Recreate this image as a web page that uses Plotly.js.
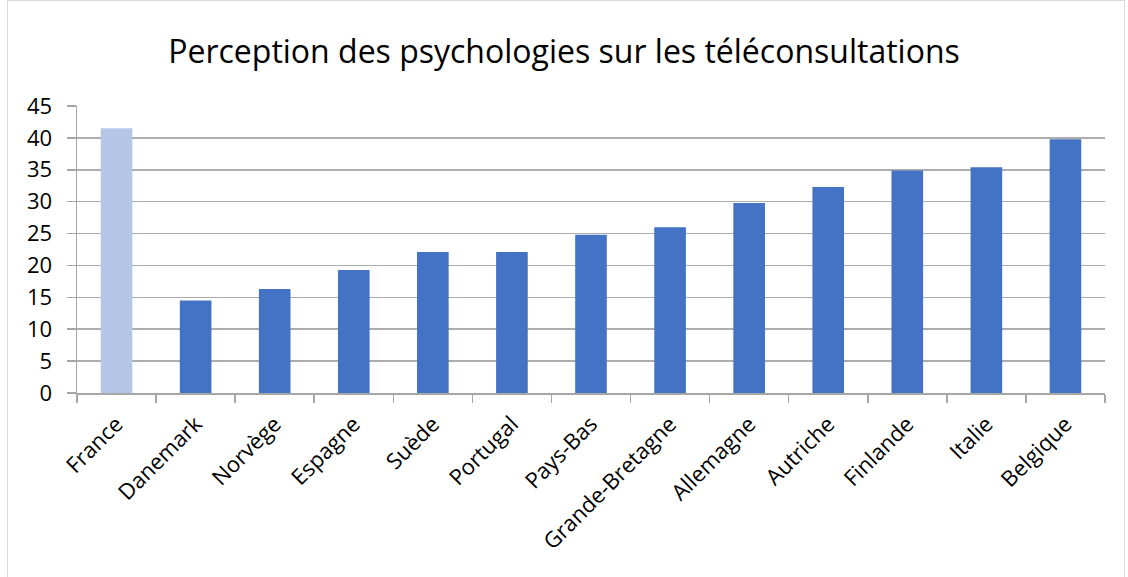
<!DOCTYPE html>
<html>
<head>
<meta charset="utf-8">
<script src="https://cdn.plot.ly/plotly-3.0.1.min.js"></script>
<style>
html,body{margin:0;padding:0;background:#fff;}
#chart{width:1128px;height:577px;}
#frame{position:absolute;left:7px;top:0px;width:1116px;height:600px;border:1px solid #d9d9d9;pointer-events:none;}
</style>
</head>
<body>
<div id="chart"></div>
<div id="frame"></div>
<script>
const categories = ["France","Danemark","Norvège","Espagne","Suède","Portugal","Pays-Bas","Grande-Bretagne","Allemagne","Autriche","Finlande","Italie","Belgique"];
const values = [41.5, 14.5, 16.3, 19.3, 22.1, 22.1, 24.8, 26.0, 29.8, 32.3, 34.9, 35.4, 39.8];
const barColors = ["#b4c7e7","#4472c4","#4472c4","#4472c4","#4472c4","#4472c4","#4472c4","#4472c4","#4472c4","#4472c4","#4472c4","#4472c4","#4472c4"];
const yTicks = [0,5,10,15,20,25,30,35,40,45];

const trace = {
  type: "bar",
  x: categories,
  y: values,
  width: 0.4,
  marker: {color: barColors, line: {width: 0}},
  hoverinfo: "x+y"
};

const layout = {
  width: 1128, height: 577,
  margin: {l: 77, r: 23, t: 106, b: 184},
  paper_bgcolor: "#ffffff",
  plot_bgcolor: "#ffffff",
  showlegend: false,
  title: {
    text: "Perception des psychologies sur les téléconsultations",
    font: {family: "Open Sans, Noto Sans, sans-serif", size: 32, color: "#000000"},
    x: 0.5, xanchor: "center", y: 0.91, yanchor: "middle"
  },
  font: {family: "Open Sans, Noto Sans, sans-serif", color: "#000000"},
  xaxis: {
    type: "category",
    tickangle: -45,
    tickfont: {size: 22, color: "#000"},
    showline: true, linecolor: "#a6a6a6", linewidth: 1.5,
    ticks: "outside", tickson: "boundaries", ticklen: 8, tickcolor: "#a6a6a6", tickwidth: 1.5,
    showgrid: false, zeroline: false, ticklabelstandoff: 8
  },
  yaxis: {
    range: [0, 45],
    tickvals: yTicks,
    ticktext: yTicks.map(String),
    tickfont: {size: 22, color: "#000"},
    showgrid: true, gridcolor: "#adadad", gridwidth: 1.5,
    showline: true, linecolor: "#a6a6a6", linewidth: 1.5,
    ticks: "outside", ticklen: 9, tickcolor: "#a6a6a6", tickwidth: 1.5,
    zeroline: false, ticklabelstandoff: 10
  }
};

Plotly.newPlot("chart", [trace], layout, {displayModeBar: false, staticPlot: true});
</script>
</body>
</html>
